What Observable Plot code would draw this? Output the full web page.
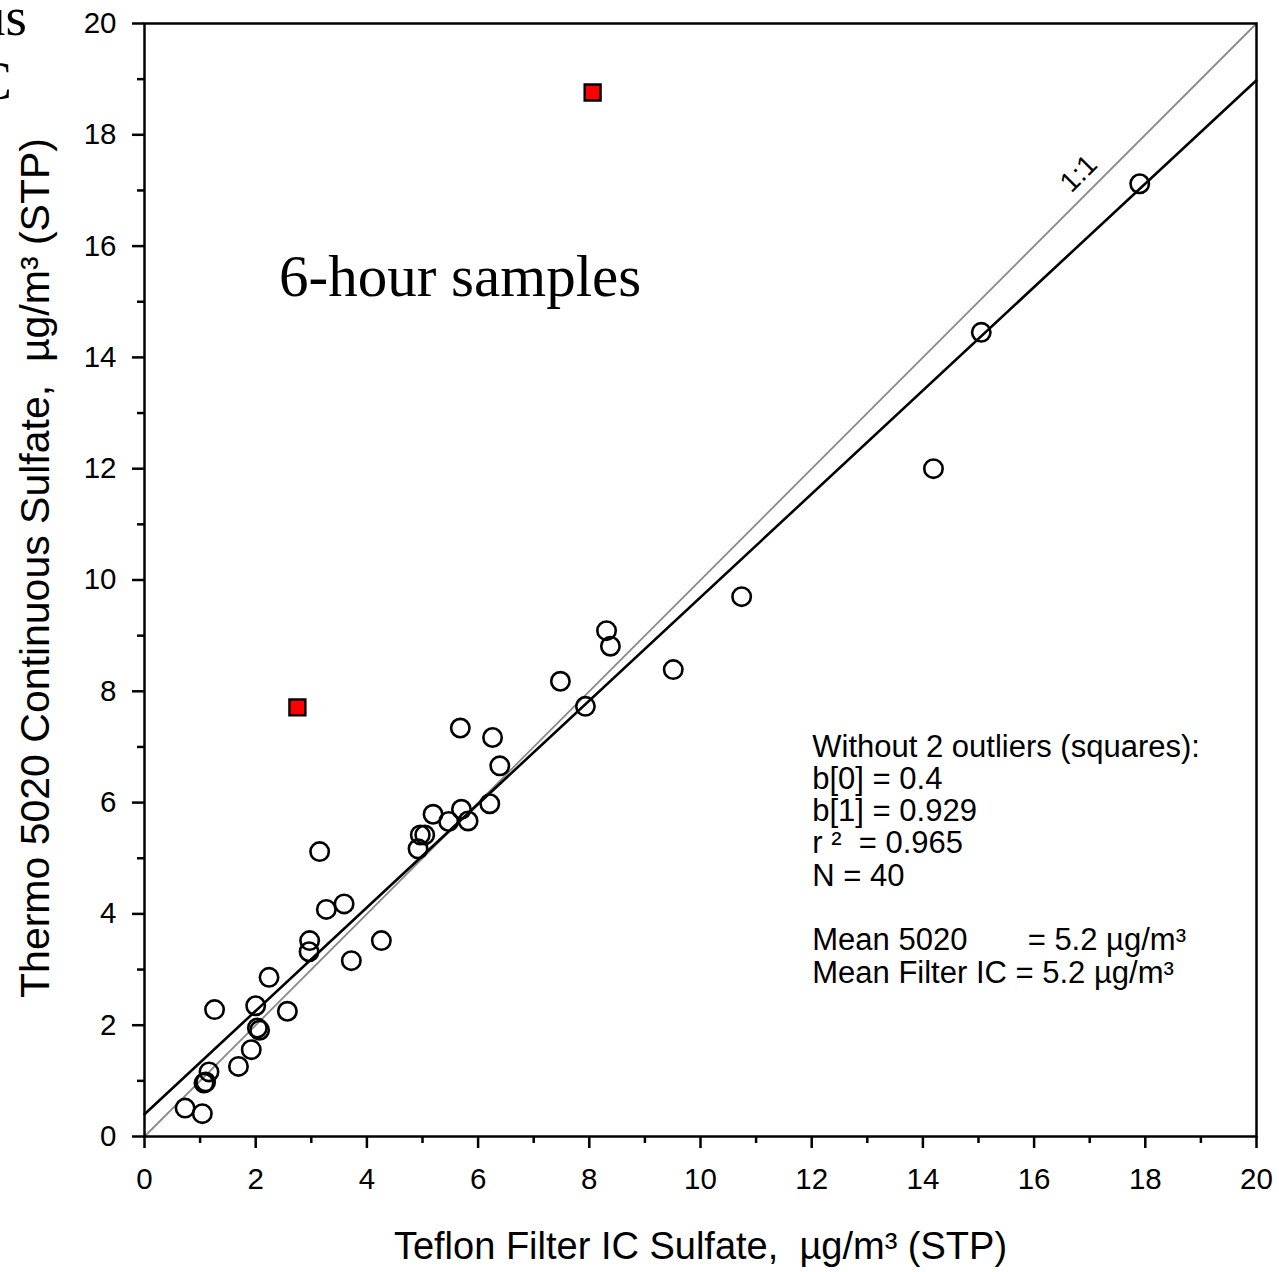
<!DOCTYPE html>
<html><head><meta charset="utf-8">
<script src="https://cdn.jsdelivr.net/npm/d3@7"></script>
<script src="https://cdn.jsdelivr.net/npm/@observablehq/plot@0.6"></script>
<style>
body{margin:0;background:#fff;}
#wrap{position:relative;width:1279px;height:1272px;overflow:hidden;background:#fff;}
#wrap svg text{white-space:pre;}
.frag{position:absolute;font-family:"Liberation Serif","Times New Roman",serif;font-size:55px;line-height:1;color:#000;white-space:nowrap;}
</style></head><body><div id="wrap"></div>
<script>
// Circles: samples used in the fit
const filterIC = [0.73,1.04,1.07,1.10,1.16,1.26,1.69,1.92,2.03,2.07,2.00,2.24,2.57,2.96,2.97,3.15,3.27,3.59,3.72,4.26,4.92,4.96,5.04,5.19,5.47,5.70,5.82,5.68,6.21,6.26,6.39,7.48,7.93,8.31,8.38,9.51,10.74,14.19,15.05,17.90];
const thermo   = [0.51,0.41,0.96,0.98,1.16,2.28,1.26,1.56,1.95,1.91,2.35,2.86,2.25,3.32,3.52,5.12,4.08,4.18,3.16,3.52,5.17,5.42,5.42,5.79,5.66,5.88,5.67,7.34,5.98,7.17,6.66,8.18,7.73,9.09,8.81,8.39,9.70,12.00,14.45,17.12];
// Squares: outliers
const outlierX = [2.75, 8.06];
const outlierY = [7.71, 18.76];
// Regression coefficients
const b0 = 0.4, b1 = 0.929;
const axisDomain = [0, 20];
const majorTicks = [0,2,4,6,8,10,12,14,16,18,20];
const minorTicks = [1,3,5,7,9,11,13,15,17,19];
const statsLines = ["Without 2 outliers (squares):","b[0] = 0.4","b[1] = 0.929","r ²  = 0.965","N = 40","","Mean 5020       = 5.2 µg/m³","Mean Filter IC = 5.2 µg/m³"];
const statsPos = {x: 12.01, y: 7.24};
const titlePos = {x: 2.42, y: 15.11};
const oneLabelPos = {x: 16.8, y: 17.3};

const pts = filterIC.map((x,i)=>({x, y: thermo[i]}));
const outs = outlierX.map((x,i)=>({x, y: outlierY[i]}));
const fit = axisDomain.map(x=>({x, y: b0 + b1*x}));
const ident = axisDomain.map(v=>({x:v, y:v}));

const sans = "'Liberation Sans', Arial, sans-serif";
const plot = Plot.plot({
  width: 1279, height: 1272,
  marginLeft: 144, marginRight: 23, marginTop: 23, marginBottom: 136,
  style: {fontFamily: sans, background: "white", color: "black", overflow: "visible"},
  x: {domain: axisDomain},
  y: {domain: axisDomain},
  marks: [
    Plot.line(ident, {x:"x", y:"y", stroke:"#8a8a8a", strokeWidth:1.8}),
    Plot.line(fit, {x:"x", y:"y", stroke:"black", strokeWidth:2.6}),
    Plot.dot(pts, {x:"x", y:"y", r:9.2, stroke:"black", strokeWidth:2.6, fill:"none"}),
    Plot.dot(outs, {x:"x", y:"y", symbol:"square", r:9, stroke:"black", strokeWidth:2.4, fill:"#ff0000"}),
    Plot.axisX({ticks: majorTicks, tickSize: 12, tickPadding: 20, fontSize: 29.5, strokeWidth: 2.5, label: null}),
    Plot.axisX({ticks: minorTicks, tickSize: 7, text: null, strokeWidth: 2.5, label: null}),
    Plot.axisY({ticks: majorTicks, tickSize: 12, tickPadding: 16, fontSize: 29.5, strokeWidth: 2.5, label: null}),
    Plot.axisY({ticks: minorTicks, tickSize: 7, text: null, strokeWidth: 2.5, label: null}),
    Plot.frame({stroke: "black", strokeWidth: 2.5}),
    Plot.text(["Teflon Filter IC Sulfate,  µg/m³ (STP)"], {frameAnchor: "bottom", dy: 122, lineAnchor: "bottom", textAnchor: "middle", fontSize: 38}),
    Plot.text(["Thermo 5020 Continuous Sulfate,  µg/m³ (STP)"], {frameAnchor: "left", dx: -96, dy: -12, rotate: -90, lineAnchor: "bottom", textAnchor: "middle", fontSize: 41}),
    Plot.text([statsLines.join("\n")], {x: () => statsPos.x, y: () => statsPos.y, textAnchor: "start", lineAnchor: "top", lineHeight: 1.042, fontSize: 31}),
    Plot.text(["6-hour samples"], {x: () => titlePos.x, y: () => titlePos.y, textAnchor: "start", lineAnchor: "bottom", fontSize: 59, fontFamily: "'Liberation Serif', 'Times New Roman', serif"}),
    Plot.text(["1:1"], {x: () => oneLabelPos.x, y: () => oneLabelPos.y, rotate: -45, fontSize: 28, lineAnchor: "middle", textAnchor: "middle"})
  ]
});
const wrap = document.getElementById("wrap");
wrap.appendChild(plot);
const f1 = document.createElement("div"); f1.className="frag"; f1.textContent="us"; f1.style.right=(1279-27)+"px"; f1.style.top="-11px";
const f2 = document.createElement("div"); f2.className="frag"; f2.textContent="C"; f2.style.right=(1279-12)+"px"; f2.style.top="53px";
wrap.appendChild(f1); wrap.appendChild(f2);
</script></body></html>
